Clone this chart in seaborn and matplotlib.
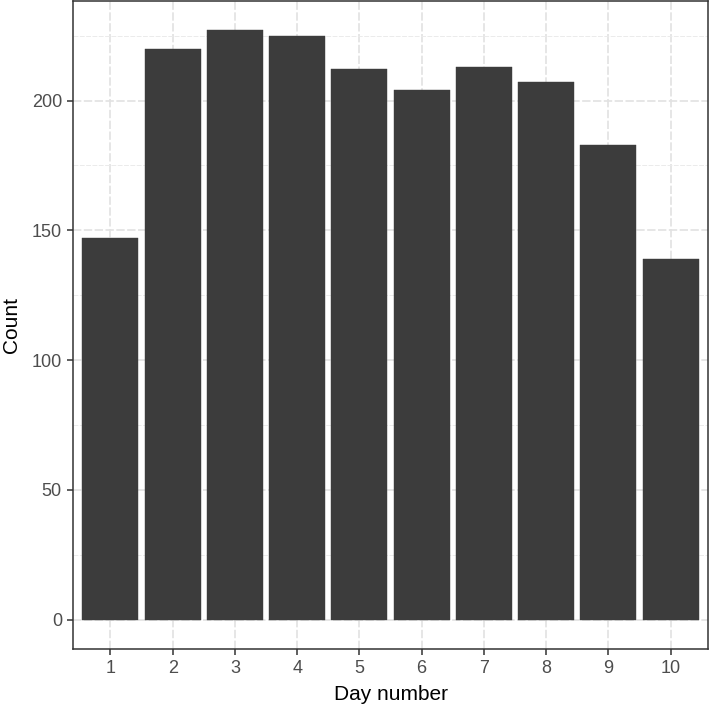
import numpy as np
import pandas as pd
import matplotlib
matplotlib.use('Agg')
import matplotlib.pyplot as plt
import seaborn as sns
from matplotlib.ticker import MultipleLocator

# Dados
days = [1, 2, 3, 4, 5, 6, 7, 8, 9, 10]
counts = [147, 220, 227, 225, 212, 204, 213, 207, 183, 139]

df = pd.DataFrame({'day': days, 'count': counts})

sns.set_style('white')
plt.rcParams['font.family'] = ['Liberation Sans', 'DejaVu Sans']

fig = plt.figure(figsize=(7.09, 7.11), dpi=100)
ax = fig.add_axes([0.103, 0.0872, 0.8956, 0.9114])

sns.barplot(data=df, x='day', y='count', order=days, color='#3c3c3c',
            saturation=1, width=0.9, edgecolor='#3c3c3c', linewidth=0.3, ax=ax, zorder=3)

ax.set_xlim(-0.6, 9.6)
ax.set_ylim(-11.35, 238.35)
ax.yaxis.set_major_locator(MultipleLocator(50))
ax.yaxis.set_minor_locator(MultipleLocator(25))

ax.grid(which='major', color='#e2e2e2', linewidth=1.2, linestyle=(0, (5, 1.5)), zorder=0)
ax.grid(which='minor', axis='y', color='#ebebeb', linewidth=0.7, linestyle=(0, (5, 1.5)), zorder=0)
ax.set_axisbelow(True)

for s in ax.spines.values():
    s.set_visible(True)
    s.set_color('#333333')
    s.set_linewidth(1.1)

ax.tick_params(axis='both', which='major', length=4, width=1.1, color='#333333',
               labelsize=13, labelcolor='#4d4d4d', pad=4, bottom=True, left=True)
ax.tick_params(axis='y', which='minor', length=0)

ax.set_xlabel('Day number', fontsize=15, color='black', labelpad=6)
ax.set_ylabel('Count', fontsize=15, color='black', labelpad=8)

plt.savefig('out.png', dpi=100)
